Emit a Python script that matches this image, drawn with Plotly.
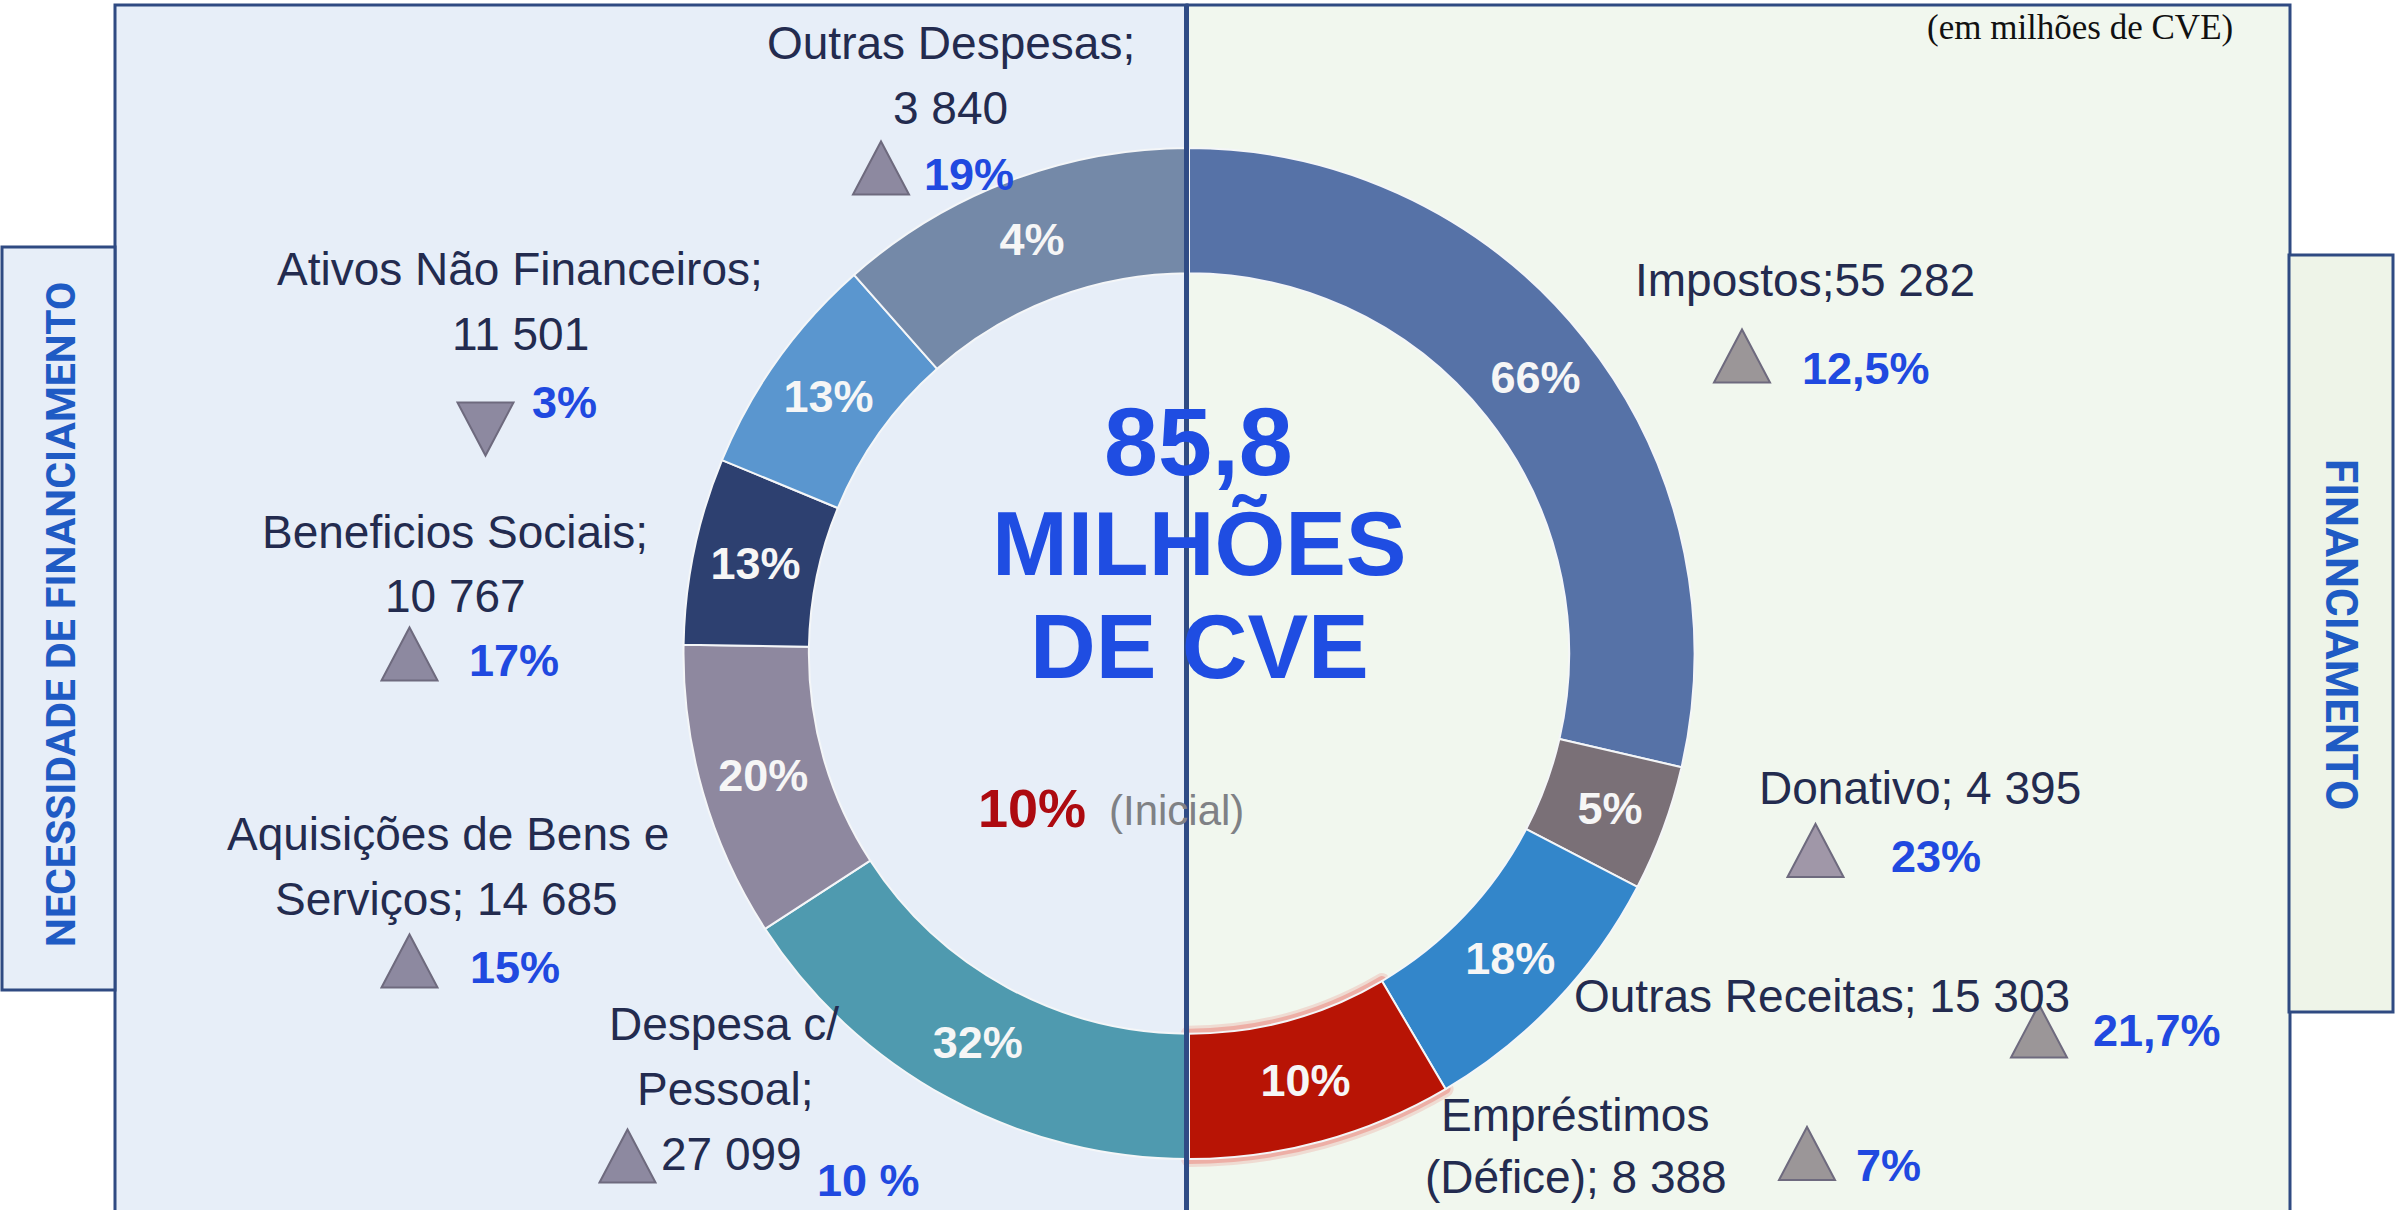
import plotly.graph_objects as go

W, H = 2395, 1210

# ---------------- data ----------------
receitas_cat = ["Impostos", "Donativo", "Outras Receitas", "Empréstimos (Défice)"]
receitas_val = [55282, 4395, 15303, 8388]
receitas_pct = ["66%", "5%", "18%", "10%"]
receitas_var = ["12,5%", "23%", "21,7%", "7%"]
receitas_dir = ["up", "up", "up", "up"]
receitas_arco = [103, 14.5, 32, 30.5]          # share of the ring as drawn

despesas_cat = ["Despesa c/ Pessoal", "Aquisições de Bens e Serviços",
                "Beneficios Sociais", "Ativos Não Financeiros", "Outras Despesas"]
despesas_val = [27099, 14685, 10767, 11501, 3840]
despesas_pct = ["32%", "20%", "13%", "13%", "4%"]
despesas_var = ["10 %", "15%", "17%", "3%", "19%"]
despesas_dir = ["up", "up", "up", "down", "up"]
despesas_arco = [57, 34, 21.5, 26, 41.5]

total_txt = "85,8"
total_unidade = ["MILHÕES", "DE CVE"]
inicial_pct = "10%"
inicial_lbl = "(Inicial)"
unidade_txt = "(em milhões de CVE)"
titulo_esq = "NECESSIDADE DE FINANCIAMENTO"
titulo_dir = "FINANCIAMENTO"

def fmt(v):
    return f"{v:,}".replace(",", " ")

# ---------------- layout / style ----------------
rec_colors = ["#5672A7", "#7A7077", "#3386CA", "#B81405"]
desp_colors = ["#4F9AAF", "#8E889F", "#2D4070", "#5A96CF", "#7489A8"]

rec_tpl = [["{c};{v}"], ["{c}; {v}"], ["{c}; {v}"], ["Empréstimos", "(Défice); {v}"]]
desp_tpl = [["Despesa c/", "Pessoal;", "{v}"], ["Aquisições de Bens e", "Serviços; {v}"],
            ["{c};", "{v}"], ["{c};", "{v}"], ["{c};", "{v}"]]

rec_line_pos = [[(1805, 280)], [(1920, 788)], [(1822, 996)], [(1575, 1115), (1576, 1177)]]
rec_var_pos = [(1866, 368), (1936, 856), (2157, 1030), (1888, 1165)]
rec_tri = [(1742, 356), (1815.5, 850.5), (2039, 1031), (1807, 1153.5)]
rec_tri_col = ["#9B9698", "#A097A8", "#9B9698", "#9B9698"]

desp_line_pos = [[(724, 1024), (725, 1089), (731, 1154)], [(448, 834), (446, 899)],
                 [(455, 532), (455, 596)], [(520, 269), (520, 333.5)], [(951, 43), (950, 108)]]
desp_var_pos = [(868, 1180), (515, 967), (514, 660), (564, 402), (969, 174)]
desp_tri = [(627.5, 1156), (409.5, 961), (409.5, 654), (485.5, 429), (881, 168)]
desp_tri_col = ["#8D89A0"] * 5

CX, CY, R, HOLE = 1189, 653.5, 505.5, 0.752
dom_x = [(CX - R) / W, (CX + R) / W]
dom_y = [(H - CY - R) / H, (H - CY + R) / H]

LABEL_FONT = "Liberation Sans, Arial, sans-serif"
NAVY = "#232B4F"
BLUE = "#2049E0"

values = receitas_arco + despesas_arco
colors = rec_colors + desp_colors
texts = receitas_pct + despesas_pct
n = len(values)
red_idx = 3

fig = go.Figure()

# soft glow under the red slice
for wdt, alpha in [(16, 0.18), (10, 0.35)]:
    fig.add_trace(go.Pie(
        values=values, sort=False, direction="clockwise", rotation=0,
        hole=HOLE, domain=dict(x=dom_x, y=dom_y),
        marker=dict(colors=["rgba(0,0,0,0)"] * n,
                    line=dict(color=["rgba(0,0,0,0)"] * red_idx + [f"rgba(235,95,85,{alpha})"]
                              + ["rgba(0,0,0,0)"] * (n - red_idx - 1),
                              width=[0] * red_idx + [wdt] + [0] * (n - red_idx - 1))),
        textinfo="none", hoverinfo="skip", showlegend=False,
    ))

fig.add_trace(go.Pie(
    values=values, sort=False, direction="clockwise", rotation=0,
    hole=HOLE, domain=dict(x=dom_x, y=dom_y),
    marker=dict(colors=colors, line=dict(color="#F4F6F8", width=2)),
    text=texts, textinfo="text", textposition="inside",
    insidetextorientation="horizontal",
    textfont=dict(family=LABEL_FONT, size=45, color="#F6F6F6", weight="bold"),
    hoverinfo="skip", showlegend=False,
))

# invisible pixel axes
fig.update_layout(
    width=W, height=H, margin=dict(l=0, r=0, t=0, b=0),
    paper_bgcolor="white", plot_bgcolor="rgba(0,0,0,0)",
    xaxis=dict(range=[0, W], visible=False, fixedrange=True),
    yaxis=dict(range=[H, 0], visible=False, fixedrange=True),
)

LINE = "#2F4A82"
shapes = [
    dict(type="rect", x0=115, x1=1187, y0=5, y1=H + 10, fillcolor="#E7EEF8",
         line=dict(color=LINE, width=3), layer="below"),
    dict(type="rect", x0=1187, x1=2290, y0=5, y1=H + 10, fillcolor="#F1F7EE",
         line=dict(color=LINE, width=3), layer="below"),
    dict(type="rect", x0=2, x1=115, y0=247, y1=990, fillcolor="#E7EEF8",
         line=dict(color=LINE, width=3), layer="below"),
    dict(type="rect", x0=2289, x1=2393, y0=255, y1=1012, fillcolor="#EEF4E8",
         line=dict(color=LINE, width=3), layer="below"),
    dict(type="line", x0=1186.5, x1=1186.5, y0=5, y1=H, line=dict(color="#2F4B85", width=5),
         layer="above"),
]

def tri(cx, cy, d, col, w=56, h=53):
    if d == "up":
        p = f"M {cx - w/2} {cy + h/2} L {cx + w/2} {cy + h/2} L {cx} {cy - h/2} Z"
    else:
        p = f"M {cx - w/2} {cy - h/2} L {cx + w/2} {cy - h/2} L {cx} {cy + h/2} Z"
    return dict(type="path", path=p, fillcolor=col, line=dict(color="#6E6A7E", width=2),
                layer="above")

for (cx, cy), d, c in zip(rec_tri, receitas_dir, rec_tri_col):
    shapes.append(tri(cx, cy, d, c))
for (cx, cy), d, c in zip(desp_tri, despesas_dir, desp_tri_col):
    shapes.append(tri(cx, cy, d, c))

ann = []

def add_text(x, y, t, size, color, bold=False, family=LABEL_FONT, xanchor="center", angle=0):
    ann.append(dict(x=x, y=y, xref="x", yref="y", text=t, showarrow=False,
                    xanchor=xanchor, yanchor="middle", textangle=angle,
                    font=dict(family=family, size=size, color=color,
                              weight="bold" if bold else "normal")))

for cat, val, tpl, pos in zip(receitas_cat, receitas_val, rec_tpl, rec_line_pos):
    for line, (x, y) in zip(tpl, pos):
        add_text(x, y, line.format(c=cat, v=fmt(val)), 46, NAVY)
for cat, val, tpl, pos in zip(despesas_cat, despesas_val, desp_tpl, desp_line_pos):
    for line, (x, y) in zip(tpl, pos):
        add_text(x, y, line.format(c=cat, v=fmt(val)), 46, NAVY)
for v, (x, y) in zip(receitas_var, rec_var_pos):
    add_text(x, y, v, 45, BLUE, bold=True)
for v, (x, y) in zip(despesas_var, desp_var_pos):
    add_text(x, y, v, 45, BLUE, bold=True)

CENTER_BLUE = "#1F4DE2"
add_text(1198, 441, total_txt, 97, CENTER_BLUE, bold=True)
add_text(1199, 543, total_unidade[0], 91, CENTER_BLUE, bold=True)
add_text(1199, 646, total_unidade[1], 91, CENTER_BLUE, bold=True)
add_text(1088, 808, inicial_pct, 54, "#AD0A10", bold=True, xanchor="right")
add_text(1107, 810, inicial_lbl, 42, "#7F8185", xanchor="left")

add_text(2080, 27, unidade_txt, 35, "#111111", family="Liberation Serif, Times New Roman, serif")

BOXFONT = "Roboto, Liberation Sans, sans-serif"
add_text(61, 615, titulo_esq, 41, "#1F5BC4", bold=True, family=BOXFONT, angle=-90)
add_text(2341, 634, titulo_dir, 44, "#1F5BC4", bold=True, family=BOXFONT, angle=90)

fig.update_layout(shapes=shapes, annotations=ann)

fig.write_html("out.html", config={"displayModeBar": False},
               post_script="document.body.style.margin='0';document.body.style.overflow='hidden';")
